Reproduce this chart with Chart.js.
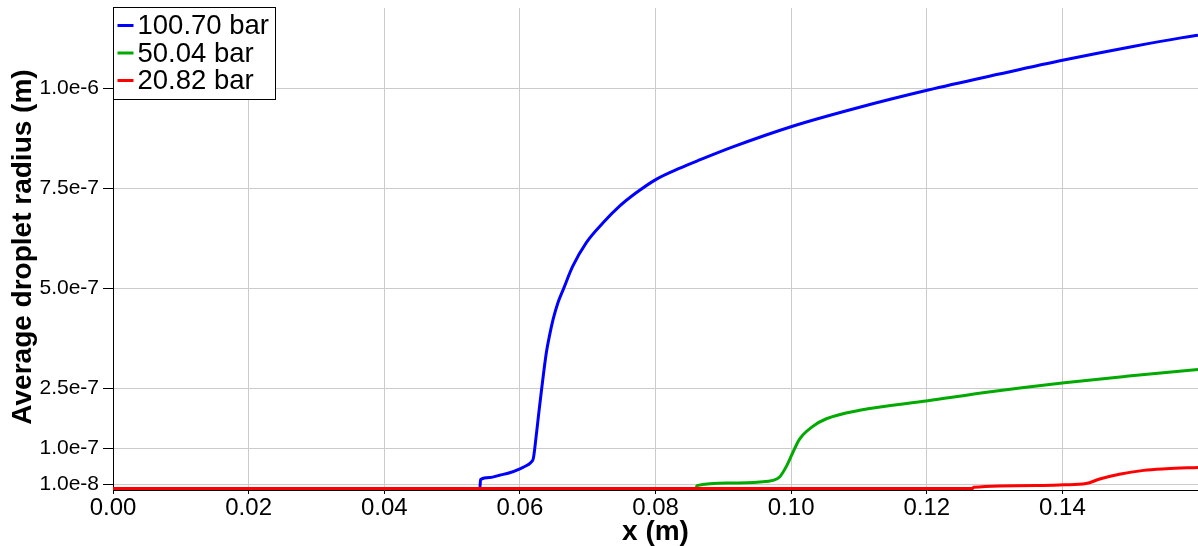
<!DOCTYPE html>
<html>
<head>
<meta charset="utf-8">
<script src="https://cdn.jsdelivr.net/npm/chart.js@4.4.1/dist/chart.umd.min.js"></script>
<style>
  html, body { margin: 0; padding: 0; background: #ffffff; }
  canvas { display: block; }
</style>
</head>
<body>
<canvas id="chart" width="1198" height="546"></canvas>
<script>
// Series labels and colours
const seriesNames = ['100.70 bar', '50.04 bar', '20.82 bar'];
const seriesColors = ['#0000ff', '#00aa00', '#ff0000'];

// 100.70 bar
const blueX = [0, 0.0541, 0.0542, 0.0556, 0.0570, 0.0585, 0.0600, 0.0612, 0.0617, 0.0620, 0.0624,
               0.0628, 0.0632, 0.0639, 0.0644, 0.0649, 0.0656, 0.0664, 0.0678, 0.0698, 0.0723,
               0.0747, 0.0772, 0.0801, 0.0836, 0.0866, 0.0914, 0.1001, 0.1101, 0.1202, 0.1307,
               0.1402, 0.1504, 0.1577, 0.1600];
const blueY = [0, 0, 2.2e-8, 2.7e-8, 3.3e-8, 3.9e-8, 4.9e-8, 5.9e-8, 6.6e-8, 7.6e-8, 1.30e-7,
               1.90e-7, 2.47e-7, 3.39e-7, 3.84e-7, 4.22e-7, 4.63e-7, 4.97e-7, 5.55e-7, 6.14e-7, 6.64e-7,
               7.05e-7, 7.39e-7, 7.72e-7, 8.00e-7, 8.21e-7, 8.53e-7, 9.04e-7, 9.52e-7, 9.95e-7, 1.035e-6,
               1.070e-6, 1.104e-6, 1.126e-6, 1.132e-6];

// 50.04 bar
const greenX = [0, 0.0860, 0.0861, 0.0909, 0.0954, 0.0973, 0.0983, 0.0993, 0.1001, 0.1012, 0.1032,
                0.1052, 0.1101, 0.1202, 0.1297, 0.1403, 0.1494, 0.1600];
const greenY = [0, 0, 7e-9, 1.35e-8, 1.6e-8, 2.0e-8, 2.85e-8, 5.5e-8, 8.4e-8, 1.22e-7, 1.55e-7,
                1.74e-7, 1.95e-7, 2.19e-7, 2.42e-7, 2.64e-7, 2.80e-7, 2.97e-7];

// 20.82 bar
const redX = [0, 0.1268, 0.1269, 0.1366, 0.1402, 0.1435, 0.1455, 0.1484, 0.1520, 0.1553, 0.1600];
const redY = [0, 0, 3e-9, 7.5e-9, 9e-9, 1.2e-8, 2.35e-8, 3.55e-8, 4.5e-8, 4.9e-8, 5.25e-8];

// Axis ticks and titles
const xTicks = [0, 0.02, 0.04, 0.06, 0.08, 0.10, 0.12, 0.14];
const yTicks = [1e-8, 1e-7, 2.5e-7, 5e-7, 7.5e-7, 1e-6];
const xTitle = 'x (m)';
const yTitle = 'Average droplet radius (m)';

const FONT = '"Liberation Sans", Arial, sans-serif';

function toPoints(xs, ys) {
  return xs.map((x, i) => ({ x: x, y: ys[i] }));
}

// Axis titles and the boxed legend inside the plot area
const overlay = {
  id: 'overlay',
  afterDraw(chart) {
    const ctx = chart.ctx;
    const a = chart.chartArea;
    ctx.save();
    ctx.fillStyle = '#000000';
    ctx.textAlign = 'center';
    ctx.textBaseline = 'middle';
    ctx.font = 'bold 28px ' + FONT;
    ctx.fillText(xTitle, (a.left + a.right) / 2, 532);
    ctx.save();
    ctx.translate(23, 247);
    ctx.rotate(-Math.PI / 2);
    ctx.fillText(yTitle, 0, 0);
    ctx.restore();

    // legend box
    const bx = a.left + 0.5, by = a.top - 0.5, bw = 162, bh = 92;
    ctx.fillStyle = '#ffffff';
    ctx.fillRect(bx, by, bw, bh);
    ctx.strokeStyle = '#000000';
    ctx.lineWidth = 1;
    ctx.strokeRect(bx, by, bw, bh);
    ctx.font = '27.5px ' + FONT;
    ctx.textAlign = 'left';
    ctx.textBaseline = 'middle';
    seriesNames.forEach((name, i) => {
      const ry = by + 18 + i * 27.5;
      ctx.strokeStyle = seriesColors[i];
      ctx.lineWidth = 3;
      ctx.beginPath();
      ctx.moveTo(bx + 4, ry);
      ctx.lineTo(bx + 20, ry);
      ctx.stroke();
      ctx.fillStyle = '#000000';
      ctx.fillText(name, bx + 24, ry + 1);
    });
    ctx.restore();
  }
};

new Chart(document.getElementById('chart'), {
  type: 'scatter',
  data: {
    datasets: [
      { label: seriesNames[0], data: toPoints(blueX, blueY), borderColor: seriesColors[0], backgroundColor: seriesColors[0], order: 3 },
      { label: seriesNames[1], data: toPoints(greenX, greenY), borderColor: seriesColors[1], backgroundColor: seriesColors[1], order: 2 },
      { label: seriesNames[2], data: toPoints(redX, redY), borderColor: seriesColors[2], backgroundColor: seriesColors[2], order: 1 }
    ]
  },
  options: {
    responsive: false,
    animation: false,
    devicePixelRatio: 1,
    layout: { padding: { top: 8, right: 0, left: 0, bottom: 0 } },
    datasets: { scatter: { showLine: true } },
    elements: {
      point: { radius: 0, hoverRadius: 0 },
      line: { borderWidth: 3, cubicInterpolationMode: 'monotone', fill: false }
    },
    plugins: { legend: { display: false }, tooltip: { enabled: false } },
    scales: {
      x: {
        type: 'linear',
        min: 0,
        max: 0.16,
        afterBuildTicks: s => { s.ticks = xTicks.map(v => ({ value: v })); },
        afterFit: s => { s.height = 56; s.paddingLeft = 0; s.paddingRight = 0; },
        ticks: {
          callback: v => Number(v).toFixed(2),
          font: { family: FONT, size: 24 },
          color: '#000000',
          padding: 0,
          maxRotation: 0,
          autoSkip: false
        },
        grid: { color: '#cbcbcb', lineWidth: 1, tickColor: '#000000', tickLength: 4 },
        border: { color: '#000000', width: 1 }
      },
      y: {
        type: 'linear',
        min: -4e-9,
        max: 1.2e-6,
        afterBuildTicks: s => { s.ticks = yTicks.map(v => ({ value: v })); },
        afterFit: s => { s.width = 113; s.paddingTop = 0; s.paddingBottom = 0; },
        ticks: {
          callback: v => Number(v).toExponential(1),
          font: { family: FONT, size: 21 },
          color: '#000000',
          padding: 4,
          autoSkip: false
        },
        grid: { color: '#cbcbcb', lineWidth: 1, tickColor: '#000000', tickLength: 10 },
        border: { color: '#000000', width: 1 }
      }
    }
  },
  plugins: [overlay]
});
</script>
</body>
</html>
